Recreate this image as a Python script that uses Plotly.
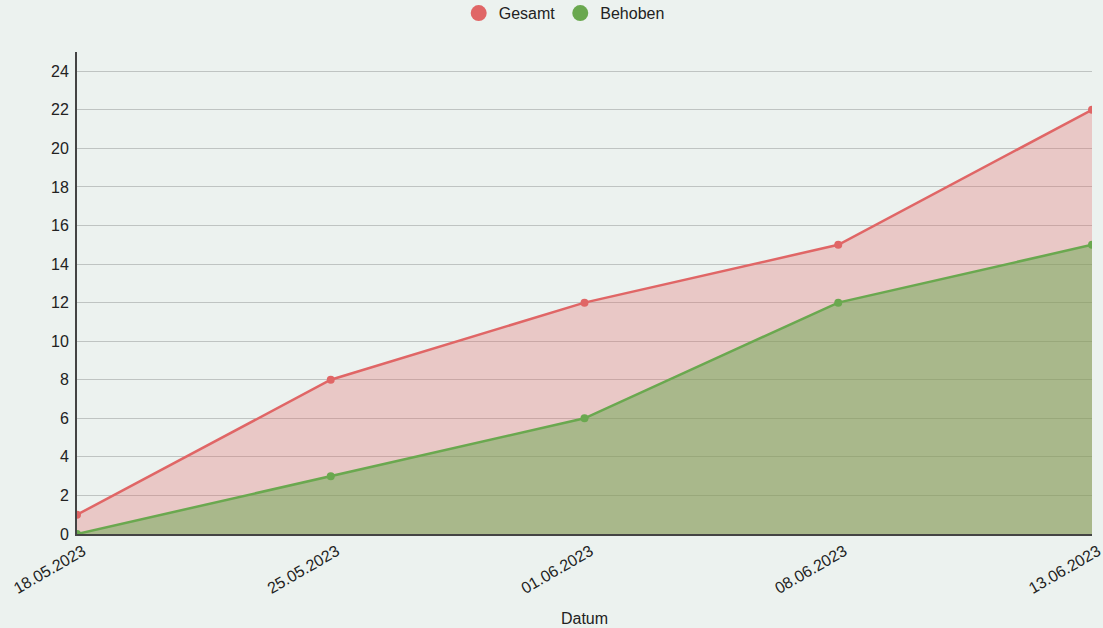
import plotly.graph_objects as go

dates = ["18.05.2023", "25.05.2023", "01.06.2023", "08.06.2023", "13.06.2023"]
gesamt = [1, 8, 12, 15, 22]
behoben = [0, 3, 6, 12, 15]

RED = "#E06666"
GREEN = "#6AA84F"
BG = "#ECF2EF"
FONT = "Liberation Sans, Arial, sans-serif"

fig = go.Figure()
fig.add_trace(go.Scatter(x=dates, y=gesamt, mode="lines+markers", fill="tozeroy",
                         fillcolor="rgba(224,102,102,0.3)",
                         line=dict(color=RED, width=2.5), marker=dict(color=RED, size=8),
                         showlegend=False, name="Gesamt"))
fig.add_trace(go.Scatter(x=dates, y=behoben, mode="lines+markers", fill="tozeroy",
                         fillcolor="rgba(106,168,79,0.5)",
                         line=dict(color=GREEN, width=2.5), marker=dict(color=GREEN, size=8),
                         showlegend=False, name="Behoben"))
for name, col in [("Gesamt", RED), ("Behoben", GREEN)]:
    fig.add_trace(go.Scatter(x=[None], y=[None], mode="markers", name=name,
                             marker=dict(color=col, size=16)))

fig.update_layout(
    width=1103, height=628,
    paper_bgcolor=BG, plot_bgcolor=BG,
    margin=dict(l=77, r=11, t=52, b=94),
    font=dict(family=FONT, size=16, color="#222"),
    legend=dict(orientation="h", x=0.48, xanchor="center", y=0.979, yanchor="middle",
                yref="container", font=dict(size=16), itemwidth=30),
    xaxis=dict(type="category", range=[0, 4], showgrid=False, showline=True,
               linecolor="#444", linewidth=2, tickangle=-30, ticks="", automargin=False,
               ticklabelshift=6,
               title=dict(text="Datum", font=dict(size=16), standoff=17), zeroline=False),
    yaxis=dict(range=[0, 25], tickvals=list(range(0, 25, 2)), showgrid=True,
               gridcolor="#BFC4C2", gridwidth=1, showline=True, linecolor="#444",
               linewidth=2, zeroline=False, ticks="", ticklen=0, automargin=False,
               ticklabelstandoff=3),
)
fig.write_html("out.html", config={"displayModeBar": False},
               post_script="document.body.style.margin='0';document.body.style.background='#ECF2EF';")
